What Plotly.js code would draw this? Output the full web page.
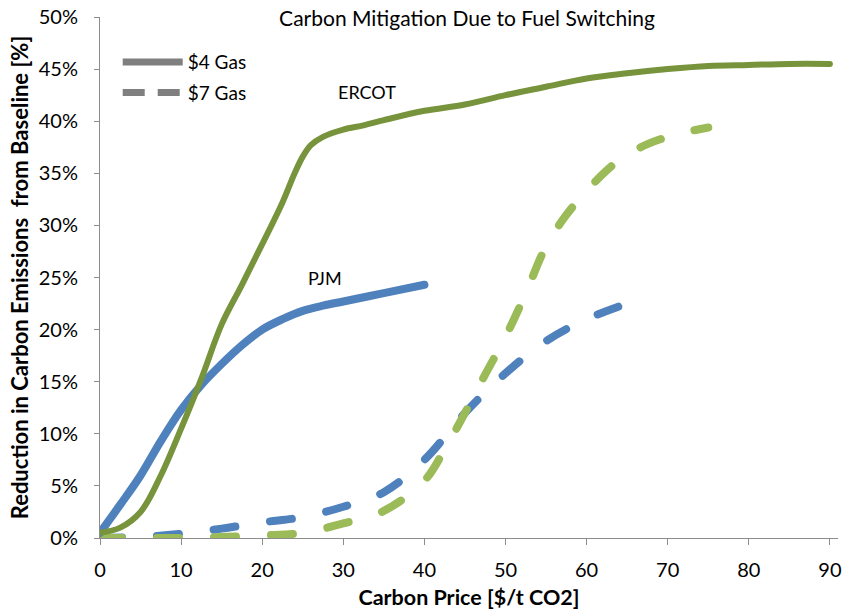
<!DOCTYPE html>
<html>
<head>
<meta charset="utf-8">
<script src="https://cdn.plot.ly/plotly-3.0.1.min.js"></script>
<style>
html,body{margin:0;padding:0;background:#fff;}
#chart{width:844px;height:614px;}
.scatterlayer .js-line{stroke-linecap:round;stroke-linejoin:round;}
</style>
</head>
<body>
<div id="chart"></div>
<script>
// Carbon price [$/t CO2]
const ercot4X = [0,2.5,5,7.5,10,12.5,15,17.5,20,22.5,24,25,26,27.5,30,32.5,35,40,45,50,55,60,65,70,75,80,85,90];
const ercot4Y = [0.5,1.0,2.5,6.0,10.5,15.3,20.5,24.3,28.2,32.2,35.0,36.6,37.7,38.5,39.2,39.6,40.1,41.0,41.6,42.5,43.3,44.1,44.6,45.0,45.3,45.4,45.5,45.5];

const pjm4X = [0,2.5,5,7.5,10,12.5,15,17.5,20,22.5,25,27.5,30,35,40];
const pjm4Y = [0.5,3.2,6.0,9.3,12.3,14.7,16.7,18.5,20.0,21.0,21.8,22.3,22.7,23.5,24.3];

const ercot7X = [0,5,10,15,20,25,30,35,40,42.5,45,47.5,50,52.5,55,57.5,60,62.5,65,67.5,70,72.5,75];
const ercot7Y = [0,0,0,0.1,0.25,0.5,1.4,2.6,5.5,8.5,12.0,15.7,19.3,23.5,28.0,31.0,33.3,35.3,36.8,37.8,38.5,39.0,39.4];

const pjm7X = [0,5,10,15,20,25,30,35,40,45,50,55,60,65];
const pjm7Y = [0,0.1,0.4,0.9,1.5,2.0,3.0,4.4,7.5,12.0,15.8,18.9,21.0,22.5];

const legendNames = ['$4 Gas','$7 Gas'];
const annotLabels = ['ERCOT','PJM'];

const cDark = '#77933C', cLight = '#9BBB59', cBlue = '#4F81BD', cGray = '#7F7F7F';
const dashPat = '22px,35px';

const traces = [
  {x: pjm7X, y: pjm7Y, mode:'lines', line:{color:cBlue, width:8, dash:dashPat, shape:'spline', smoothing:1}, showlegend:false, hoverinfo:'skip'},
  {x: ercot7X, y: ercot7Y, mode:'lines', line:{color:cLight, width:8, dash:dashPat, shape:'spline', smoothing:1}, showlegend:false, hoverinfo:'skip'},
  {x: pjm4X, y: pjm4Y, mode:'lines', line:{color:cBlue, width:8, shape:'spline', smoothing:1}, showlegend:false, hoverinfo:'skip'},
  {x: ercot4X, y: ercot4Y, mode:'lines', line:{color:cDark, width:6, shape:'spline', smoothing:1}, showlegend:false, hoverinfo:'skip'},
  {x:[null], y:[null], mode:'lines', name:legendNames[0], legendgroup:'a', line:{color:cGray, width:7}},
  {x:[null], y:[null], mode:'lines', name:legendNames[1], legendgroup:'b', line:{color:cGray, width:7, dash:'22px,13px'}}
];

const font = 'Lato, "Noto Sans", sans-serif';

const layout = {
  width:844, height:614,
  margin:{l:100, r:6, t:17, b:76},
  paper_bgcolor:'#fff', plot_bgcolor:'#fff',
  font:{family:font, color:'#000', size:20},
  title:{text:'Carbon Mitigation Due to Fuel Switching', font:{family:font, size:21, color:'#000'}, x:467/844, xanchor:'center', y:1-19/614, yanchor:'middle', xref:'container', yref:'container'},
  xaxis:{
    range:[0,91], tickvals:[0,10,20,30,40,50,60,70,80,90], showgrid:false, zeroline:false,
    showline:true, linecolor:'#8C8C8C', linewidth:1, ticks:'outside', ticklen:6, tickcolor:'#8C8C8C',
    tickfont:{size:20, family:font}, ticklabelstandoff:8,
    title:{text:'<b>Carbon Price [$/t CO2]</b>', font:{size:21.5, family:font}, standoff:9}
  },
  yaxis:{
    range:[0,50], tickvals:[0,5,10,15,20,25,30,35,40,45,50], ticktext:['0%','5%','10%','15%','20%','25%','30%','35%','40%','45%','50%'],
    showgrid:false, zeroline:false, showline:true, linecolor:'#8C8C8C', linewidth:1, ticks:'outside', ticklen:5, tickcolor:'#8C8C8C',
    tickfont:{size:20, family:font}, ticklabelstandoff:12,
    title:{text:'<b>Reduction in Carbon Emissions  from Baseline [%]</b>', font:{size:22, family:font}, standoff:4}
  },
  legend:{x:0.024, y:0.95, xanchor:'left', yanchor:'top', bgcolor:'rgba(0,0,0,0)', font:{size:19, family:font}, itemwidth:60, traceorder:'grouped', tracegroupgap:3},
  annotations:[
    {x:32.9, y:42.8, xref:'x', yref:'y', text:annotLabels[0], showarrow:false, font:{size:18, family:font}},
    {x:27.7, y:25.0, xref:'x', yref:'y', text:annotLabels[1], showarrow:false, font:{size:18, family:font}}
  ],
  showlegend:true
};

Plotly.newPlot('chart', traces, layout, {displayModeBar:false, staticPlot:true});
</script>
</body>
</html>
